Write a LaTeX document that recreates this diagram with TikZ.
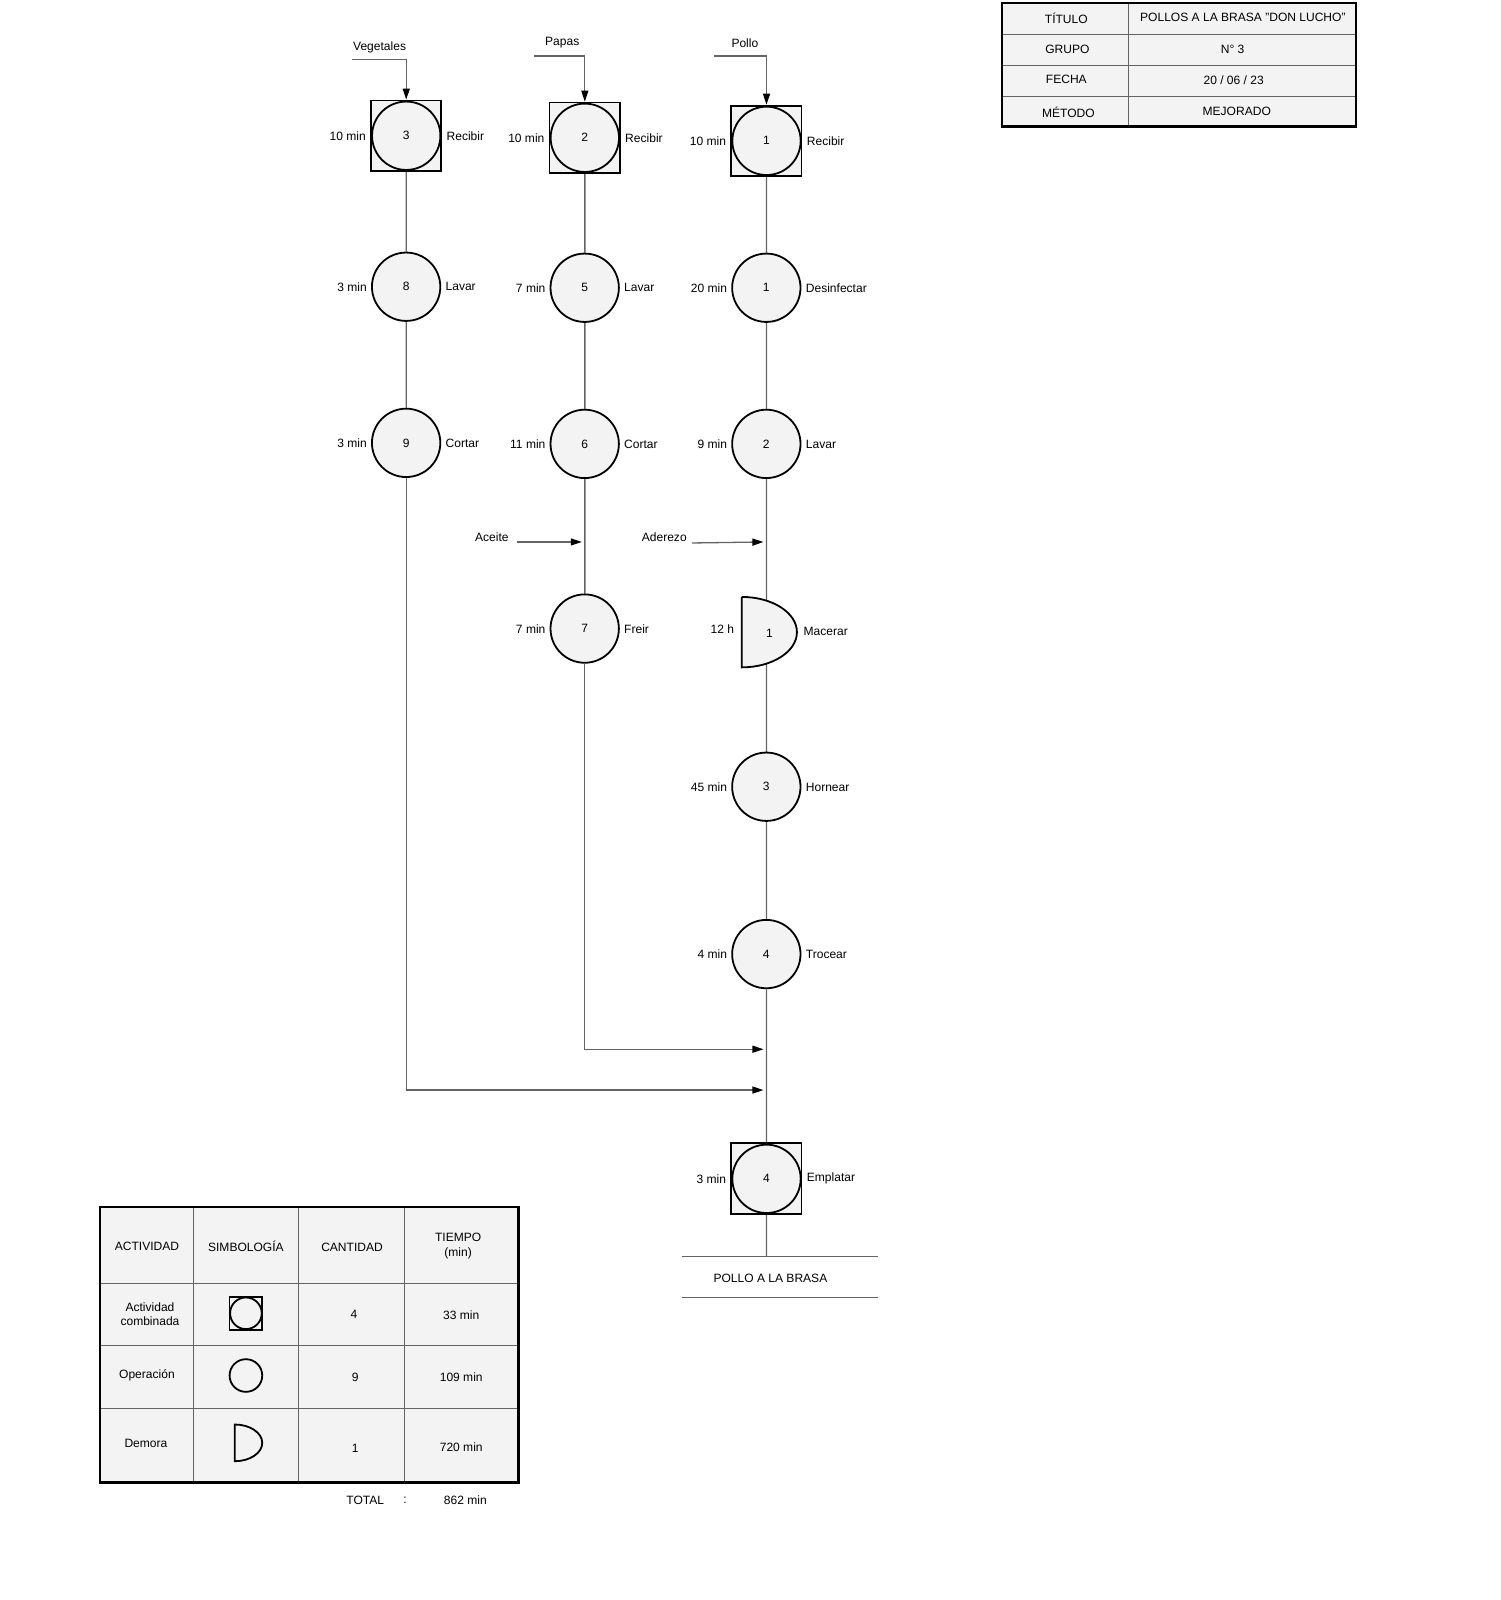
\documentclass[tikz,border=0pt]{standalone}
\usepackage{fontspec}
\setmainfont{Liberation Sans}
\usetikzlibrary{arrows.meta,backgrounds}
\definecolor{shapefill}{RGB}{243,243,243}
\definecolor{linegray}{RGB}{100,100,100}
\tikzset{
  op/.style={circle,draw,line width=1.8pt,fill=shapefill,minimum size=67pt,inner sep=0pt},
  combbox/.style={rectangle,draw,line width=1.8pt,fill=shapefill,minimum size=69pt,inner sep=0pt},
  flow/.style={draw=linegray,line width=1.3pt},
  into/.style={flow,-{Triangle[length=11pt,width=7pt,color=black]}},
  every label/.style={inner sep=1pt},
}

\begin{document}
\begin{tikzpicture}[x=1pt,y=-1pt,scale=1.0204,every node/.append style={transform shape},
    font=\fontsize{11.8}{14}\selectfont,label distance=3pt]
  \useasboundingbox (0,0) rectangle (1470,1568);

  % Vegetales
  \node (vtxt) at (372,46) {Vegetales};
  \coordinate (vin) at (345,58);
  \node[combbox,label=left:{10 min},label=right:Recibir] (rv) at (398,133) {};
  \node[op] (cv) at (rv) {3};
  \node[op,label=left:{3 min},label=right:Lavar] (l8) at (398,281) {8};
  \node[op,label=left:{3 min},label=right:Cortar] (c9) at (398,434) {9};

  % Papas
  \node (ptxt) at (551,42) {Papas};
  \coordinate (pin) at (523,55);
  \node[combbox,label=left:{10 min},label=right:Recibir] (rp) at (573,135) {};
  \node[op] (cp) at (rp) {2};
  \node[op,label=left:{7 min},label=right:Lavar] (l5) at (573,282) {5};
  \node[op,label=left:{11 min},label=right:Cortar] (c6) at (573,435) {6};
  \node (acei) at (482,526) {Aceite};
  \coordinate (ac0) at (507,531);
  \coordinate (ac1) at (570,531);
  \node[op,label=left:{7 min},label=right:Freir] (f7) at (573,616) {7};

  % Pollo
  \node (otxt) at (730,42) {Pollo};
  \coordinate (oin) at (700,55);
  \node[combbox,label=left:{10 min},label=right:Recibir] (ro) at (751,138) {};
  \node[op] (co) at (ro) {1};
  \node[op,label=left:{20 min},label=right:Desinfectar] (d1) at (751,282) {1};
  \node[op,label=left:{9 min},label=right:Lavar] (w2) at (751,435) {2};
  \node (ader) at (651,526) {Aderezo};
  \coordinate (ad0) at (678,532);
  \coordinate (ad1) at (748,531);
  \filldraw[fill=shapefill,line width=1.8pt] (727,585) -- (727,654)
     arc[start angle=90,end angle=-90,x radius=54,y radius=34.5] -- cycle;
  \coordinate (m1) at (751,620);
  \node (m1n) at (754,621) {1};
  \node[anchor=east] (m1t) at (723,617) {12 h};
  \node[anchor=west] (m1a) at (784,619) {Macerar};
  \node[op,label=left:{45 min},label=right:Hornear] (h3) at (751,771) {3};
  \node[op,label=left:{4 min},label=right:Trocear] (t4) at (751,935) {4};
  \coordinate (j1) at (748,1028);
  \coordinate (j2) at (748,1068);
  \node[combbox,label=left:{3 min},label=right:Emplatar] (re) at (751,1155) {};
  \node[op] (ce) at (re) {4};
  \coordinate (pend) at (751,1231);
  \node (prod) at (755,1253) {POLLO A LA BRASA};

  \begin{scope}[on background layer]
    \draw[flow] (rv) -- (l8);
    \draw[flow] (l8) -- (c9);
    \draw[flow] (rp) -- (l5);
    \draw[flow] (l5) -- (c6);
    \draw[flow] (c6) -- (f7);
    \draw[flow] (ro) -- (d1);
    \draw[flow] (d1) -- (w2);
    \draw[flow] (w2) -- (m1);
    \draw[flow] (m1) -- (h3);
    \draw[flow] (h3) -- (t4);
    \draw[flow] (t4) -- (re);
    \draw[flow] (re) -- (pend);
  \end{scope}
  \draw[into] (vin) -| (rv.north);
  \draw[into] (pin) -| (rp.north);
  \draw[into] (oin) -| (ro.north);
  \draw[into] (ac0) -- (ac1);
  \draw[into] (ad0) -- (ad1);
  \draw[into] (f7) |- (j1);
  \draw[into] (c9) |- (j2);
  \draw[draw=linegray,line width=1pt] (668,1231) -- (860,1231);
  \draw[draw=linegray,line width=1pt] (668,1272) -- (860,1272);

  % cabecera
  \fill[shapefill] (982,3) rectangle (1329,124);
  \draw[linegray,line width=1pt] (1106,3) -- (1106,124);
  \draw[linegray,line width=1pt] (982,34) -- (1329,34);
  \draw[linegray,line width=1pt] (982,64) -- (1329,64);
  \draw[linegray,line width=1pt] (982,95) -- (1329,95);
  \draw[line width=2.4pt] (982,3) rectangle (1329,124);
  \node (hk1) at (1045,18) {TÍTULO};
  \node (hv1) at (1218,17) {POLLOS A LA BRASA "DON LUCHO"};
  \node (hk2) at (1046,48) {GRUPO};
  \node (hv2) at (1208,48) {N° 3};
  \node (hk3) at (1045,78) {FECHA};
  \node (hv3) at (1209,79) {20 / 06 / 23};
  \node (hk4) at (1047,110) {MÉTODO};
  \node (hv4) at (1212,109) {MEJORADO};

  % resumen
  \fill[shapefill] (98,1183) rectangle (508,1453);
  \draw[linegray,line width=1pt] (190,1183) -- (190,1453);
  \draw[linegray,line width=1pt] (293,1183) -- (293,1453);
  \draw[linegray,line width=1pt] (396,1183) -- (396,1453);
  \draw[linegray,line width=1pt] (98,1258) -- (508,1258);
  \draw[linegray,line width=1pt] (98,1319) -- (508,1319);
  \draw[linegray,line width=1pt] (98,1380) -- (508,1380);
  \draw[line width=2.4pt] (98,1183) rectangle (508,1453);
  \node (sh1) at (144,1221) {ACTIVIDAD};
  \node (sh2) at (241,1221) {SIMBOLOGÍA};
  \node (sh3) at (345,1222) {CANTIDAD};
  \node[align=center] (sh4) at (449,1221) {TIEMPO\\(min)};
  \node[align=center] (sa1) at (147,1288) {Actividad\\combinada};
  \draw[line width=1.8pt] (225,1271) rectangle (257,1303);
  \draw[line width=1.8pt] (241,1287) circle(15.5);
  \node (sq1) at (347,1288) {4};
  \node (st1) at (452,1289) {33 min};
  \node (sa2) at (144,1348) {Operación};
  \draw[line width=1.8pt] (241,1348) circle(16);
  \node (sq2) at (348,1350) {9};
  \node (st2) at (452,1350) {109 min};
  \node (sa3) at (143,1415) {Demora};
  \draw[line width=1.8pt] (230,1396) -- (230,1432)
     arc[start angle=90,end angle=-90,x radius=27,y radius=18] -- cycle;
  \node (sq3) at (348,1419) {1};
  \node (st3) at (452,1418) {720 min};
  \node (tt1) at (358,1470) {TOTAL};
  \node (tt2) at (397,1470) {:};
  \node (tt3) at (456,1470) {862 min};
\end{tikzpicture}
\end{document}
